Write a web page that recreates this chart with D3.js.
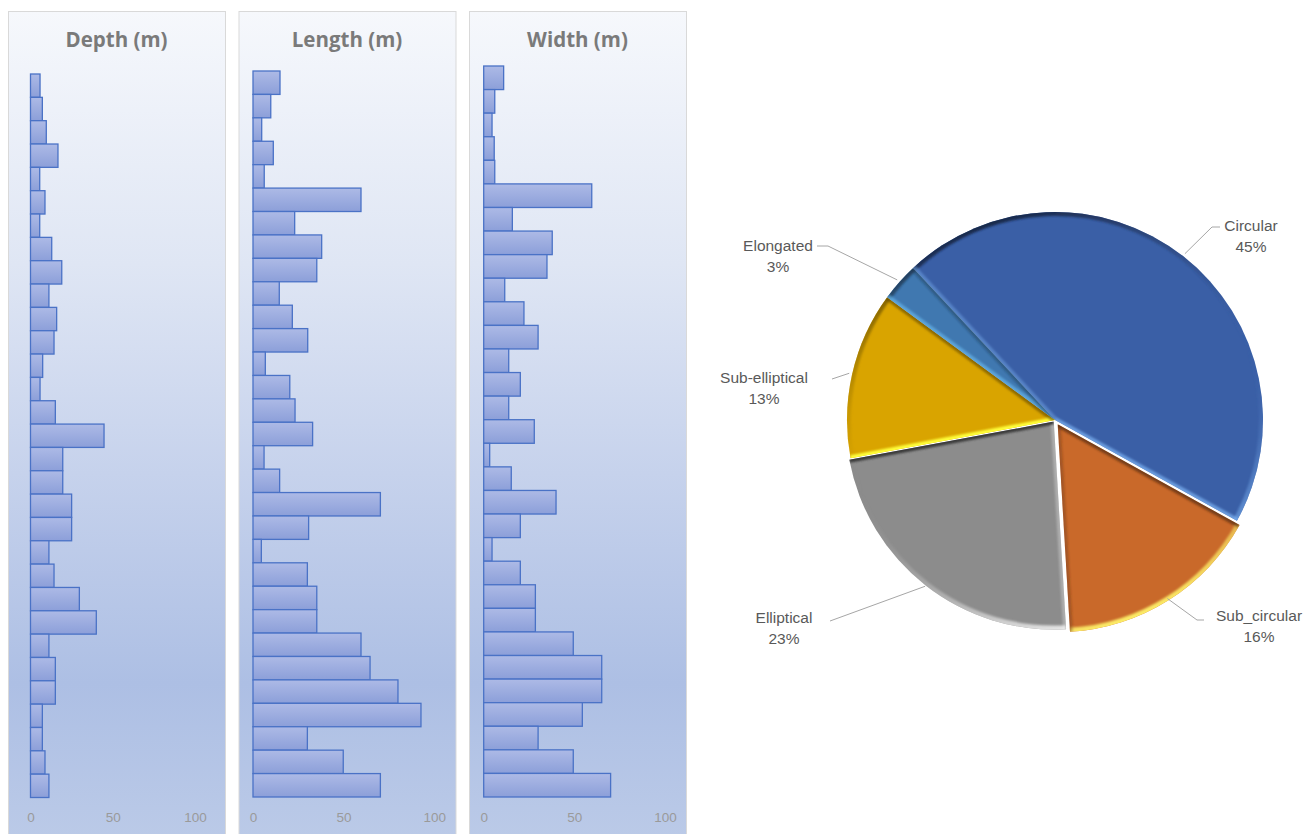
<!DOCTYPE html>
<html><head><meta charset="utf-8">
<script src="https://cdn.jsdelivr.net/npm/d3@7"></script>
<style>body{margin:0;background:#fff;} svg{display:block;}</style>
</head><body><svg id="chart" width="1307" height="834"></svg>
<script>
// ---------- DATA ----------
const categories = ["1","2","3","4","5","6","7","8","9","10","11","12","13","14","15","16",
  "17","18","19","20","21","22","23","24","25","26","27","28","29","30","31"];
const depthValues = [5.8,7.2,9.6,16.7,5.6,8.8,5.6,12.9,19,11.2,15.9,14.3,7.4,5.8,15.1,44.7,
  19.6,19.6,25,25,11.2,14.3,29.7,40,11.2,15.1,15.1,7.2,7.2,8.8,11.2];
const lengthValues = [14.9,9.8,4.8,11.2,6.2,59.6,23,37.9,35.2,14.5,21.7,30.2,6.8,20.3,23.2,32.9,
  6.1,14.7,70.3,30.7,4.6,30,35.2,35.2,59.6,64.6,80,92.7,30,49.8,70.3];
const widthValues = [11,6.1,4.6,5.8,6.1,59.6,15.8,37.8,34.9,11.6,22.2,30,13.8,20.2,13.8,27.9,
  3.3,15.2,39.9,20.2,4.6,20.2,28.5,28.5,49.4,65.1,65.1,54.4,30,49.4,70];
const panelTitles = ["Depth (m)", "Length (m)", "Width (m)"];
const xTicks = [0, 50, 100];
const shapeLabels = ["Circular", "Sub_circular", "Elliptical", "Sub-elliptical", "Elongated"];
const shapeShares = [45, 16, 23, 13, 3];

// ---------- LAYOUT / STYLE ----------
const svg = d3.select("#chart");
const defs = svg.append("defs");

const pg = defs.append("linearGradient").attr("id","panelGrad").attr("x1",0).attr("y1",0).attr("x2",0).attr("y2",1);
[[0,"#f6f8fc"],[0.3,"#dfe6f4"],[0.55,"#c6d2ec"],[0.8,"#adbfe4"],[1,"#bccbe8"]]
  .forEach(([o,c]) => pg.append("stop").attr("offset",o).attr("stop-color",c));
const bg = defs.append("linearGradient").attr("id","barGrad").attr("x1",0).attr("y1",0).attr("x2",0).attr("y2",1);
[[0,"#adbae6"],[1,"#8c9fd9"]].forEach(([o,c]) => bg.append("stop").attr("offset",o).attr("stop-color",c));

const panels = [
  {title: panelTitles[0], values: depthValues,  x0: 8,   x1: 225, top: 74,  bottom: 797.5, r0: 30.5,  r1: 195},
  {title: panelTitles[1], values: lengthValues, x0: 238.5, x1: 455.5, top: 71,  bottom: 797, r0: 253,   r1: 434.2},
  {title: panelTitles[2], values: widthValues,  x0: 469, x1: 686, top: 66,  bottom: 797, r0: 483.7, r1: 665}
];

panels.forEach(p => {
  const g = svg.append("g");
  g.append("rect").attr("x", p.x0 + 0.5).attr("y", 11.5)
    .attr("width", p.x1 - p.x0).attr("height", 840)
    .attr("fill", "url(#panelGrad)").attr("stroke", "#d9d9d9").attr("stroke-width", 1);
  g.append("text").attr("x", (p.x0 + p.x1) / 2).attr("y", 47)
    .attr("text-anchor", "middle").attr("font-family", "'Open Sans', sans-serif")
    .attr("font-weight", 700).attr("font-size", 20.5).attr("fill", "#7a7a7a").text(p.title);

  const y = d3.scaleBand().domain(categories).range([p.top, p.bottom]).padding(0);
  const x = d3.scaleLinear().domain([0, 100]).range([p.r0, p.r1]);

  g.append("g").selectAll("rect").data(categories).join("rect")
    .attr("x", x(0)).attr("y", c => y(c))
    .attr("width", (c, i) => x(p.values[i]) - x(0))
    .attr("height", y.bandwidth())
    .attr("fill", "url(#barGrad)").attr("stroke", "#4a72c6").attr("stroke-width", 1.3);

  const ax = g.append("g").attr("transform", "translate(0,812.5)")
    .call(d3.axisBottom(x).tickValues(xTicks).tickSize(0).tickPadding(0).tickFormat(d3.format("d")));
  ax.select(".domain").remove();
  ax.selectAll("text").attr("font-family", "'Liberation Sans', Arial, sans-serif")
    .attr("font-size", 13.5).attr("fill", "#9a9a9a");
});

// ---------- PIE ----------
const cx = 1055, cy = 420, R = 208;
const sliceColors = ["#3a5fa6", "#c9692a", "#8c8c8c", "#d9a400", "#4078b0"];
const rimLight = ["#7cb4f4", "#fff36a", "#f4f4f4", "#ffff3a", "#6ec0f4"];
const explode = [0, 5, 2, 0, 0];
const start = -43 * Math.PI / 180;
const pie = d3.pie().sort(null).startAngle(start).endAngle(start + 2 * Math.PI);
const arcs = pie(shapeShares);
const arcGen = d3.arc().innerRadius(0).outerRadius(R);
const L = [0.35, 0.94]; const Ln = Math.hypot(L[0], L[1]); L[0] /= Ln; L[1] /= Ln;

const pieG = svg.append("g").attr("transform", `translate(${cx},${cy})`);
defs.append("filter").attr("id", "soft").attr("x", "-10%").attr("y", "-10%").attr("width", "120%").attr("height", "120%")
  .append("feGaussianBlur").attr("stdDeviation", 1.1);

arcs.forEach((a, i) => {
  const mid = (a.startAngle + a.endAngle) / 2;
  const dx = Math.sin(mid) * explode[i], dy = -Math.cos(mid) * explode[i];
  const col = d3.color(sliceColors[i]);
  const light = rimLight[i], dark = col.darker(2.4).formatHex();
  const sg = pieG.append("g").attr("transform", `translate(${dx},${dy})`);
  const clipId = "clip" + i;
  defs.append("clipPath").attr("id", clipId).append("path").attr("d", arcGen(a));
  sg.append("path").attr("d", arcGen(a)).attr("fill", sliceColors[i]);

  const gid = "rim" + i;
  const rg = defs.append("linearGradient").attr("id", gid).attr("gradientUnits", "userSpaceOnUse")
    .attr("x1", -L[0] * R).attr("y1", -L[1] * R).attr("x2", L[0] * R).attr("y2", L[1] * R);
  rg.append("stop").attr("offset", 0).attr("stop-color", dark).attr("stop-opacity", 0.95);
  rg.append("stop").attr("offset", 0.5).attr("stop-color", sliceColors[i]).attr("stop-opacity", 0);
  rg.append("stop").attr("offset", 1).attr("stop-color", light).attr("stop-opacity", 0.95);

  const outer = sg.append("g").attr("clip-path", `url(#${clipId})`);
  const inner = outer.append("g").attr("filter", "url(#soft)");
  const rimArc = d3.arc().innerRadius(R).outerRadius(R).startAngle(a.startAngle).endAngle(a.endAngle);
  inner.append("path").attr("d", rimArc()).attr("fill", "none")
    .attr("stroke", `url(#${gid})`).attr("stroke-width", 8);
  [[a.startAngle, -1], [a.endAngle, 1]].forEach(([ang, s]) => {
    const nx = s * Math.cos(ang), ny = s * Math.sin(ang);
    const dot = nx * L[0] + ny * L[1];
    inner.append("line").attr("x1", 0).attr("y1", 0)
      .attr("x2", Math.sin(ang) * R).attr("y2", -Math.cos(ang) * R)
      .attr("stroke", dot > 0 ? light : dark)
      .attr("stroke-opacity", Math.min(1, Math.abs(dot) * 1.1))
      .attr("stroke-width", 6);
  });
});

// labels with leader lines
const labelLayout = [
  {x: 1251, y: 231, pts: [[1212, 227], [1220, 227]]},
  {x: 1259, y: 621, pts: [[1197, 620], [1204, 620]]},
  {x: 784,  y: 623, pts: [[830, 621]]},
  {x: 764,  y: 383, pts: [[832, 379]]},
  {x: 778,  y: 251, pts: [[828, 246], [817, 246]]}
];
const total = d3.sum(shapeShares);
const lab = svg.append("g");
arcs.forEach((a, i) => {
  const mid = (a.startAngle + a.endAngle) / 2;
  const rr = R + 3;
  const p0 = [cx + Math.sin(mid) * rr, cy - Math.cos(mid) * rr];
  const lay = labelLayout[i];
  lab.append("path").attr("d", d3.line()([p0, ...lay.pts])).attr("fill", "none")
    .attr("stroke", "#a6a6a6").attr("stroke-width", 1);
  const t = lab.append("text").attr("text-anchor", "middle")
    .attr("font-family", "'Liberation Sans', Arial, sans-serif").attr("font-size", 15.5).attr("fill", "#595959");
  t.append("tspan").attr("x", lay.x).attr("y", lay.y).text(shapeLabels[i]);
  t.append("tspan").attr("x", lay.x).attr("y", lay.y + 21).text(Math.round(shapeShares[i] / total * 100) + "%");
});
</script></body></html>
